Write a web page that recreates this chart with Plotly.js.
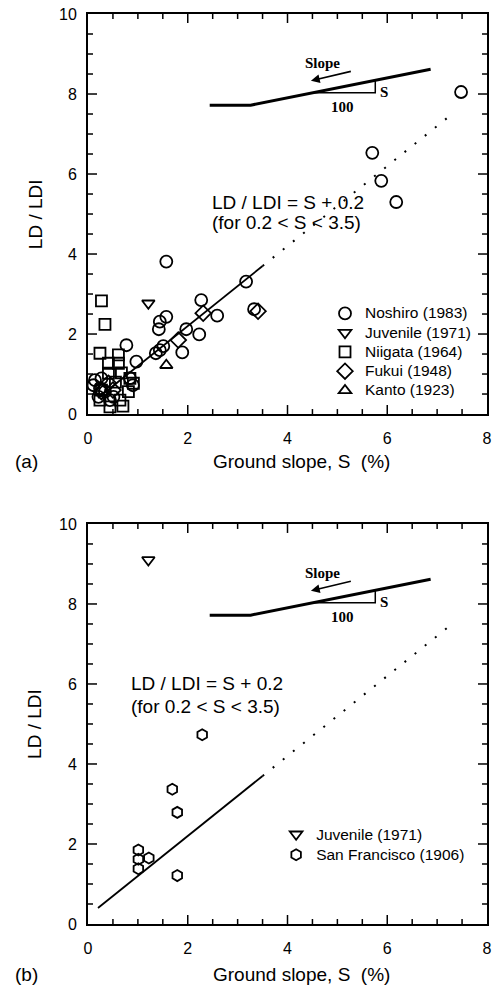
<!DOCTYPE html>
<html>
<head>
<meta charset="utf-8">
<script src="https://cdn.plot.ly/plotly-3.0.1.min.js"></script>
<style>html,body{margin:0;padding:0;background:#fff;overflow:hidden;}#chart{width:501px;height:998px;}</style>
</head>
<body>
<div id="chart"></div>
<script>
// ---------- Panel (a) data ----------
const noshiroS = [7.48, 5.70, 5.88, 6.18, 1.57, 3.17, 2.27, 1.57, 1.44, 1.42, 2.59, 1.97, 2.23, 1.89, 3.33, 0.77, 1.36, 1.51, 1.44, 0.97, 0.14, 0.11, 0.27, 0.24, 0.34, 0.44, 0.21, 0.51, 0.84, 0.90];
const noshiroR = [8.05, 6.53, 5.83, 5.30, 3.81, 3.31, 2.85, 2.43, 2.31, 2.12, 2.46, 2.12, 1.99, 1.54, 2.62, 1.72, 1.52, 1.70, 1.60, 1.31, 0.85, 0.72, 0.89, 0.65, 0.56, 0.35, 0.43, 0.43, 0.90, 0.72];
const juvenileAS = [1.21];
const juvenileAR = [2.77];
const niigataS = [0.27, 0.34, 0.24, 0.61, 0.41, 0.61, 0.41, 0.67, 0.84, 0.91, 0.81, 0.64, 0.24, 0.44, 0.27, 0.55, 0.70];
const niigataR = [2.83, 2.24, 1.52, 1.48, 1.27, 1.27, 1.02, 1.03, 0.89, 0.77, 0.56, 0.35, 0.35, 0.18, 0.60, 0.80, 0.20];
const fukuiS = [2.31, 3.41, 1.81, 0.41, 0.27, 0.50];
const fukuiR = [2.52, 2.57, 1.85, 0.77, 0.56, 0.60];
const kantoS = [1.57];
const kantoR = [1.22];

// ---------- Panel (b) data ----------
const juvenileBS = [1.21];
const juvenileBR = [9.10];
const sanFranS = [2.29, 1.69, 1.79, 1.79, 1.01, 1.01, 1.22, 1.01];
const sanFranR = [4.73, 3.37, 2.79, 1.21, 1.85, 1.62, 1.65, 1.38];

// ---------- Fitted relation LD/LDI = S + 0.2 ----------
const fitSolidS = [0.2, 3.5];
const fitDottedS = [3.5, 7.35];
const fitOffset = 0.2;

// ---------- Inset sketch (ground profile, slope triangle) ----------
const groundS = [2.44, 3.26, 6.87];
const groundR = [7.72, 7.72, 8.62];
const triS = [4.50, 5.76, 5.76];
const triR = [8.03, 8.03, 8.34];

// ---------- Axes / labels ----------
const xRange = [0, 8];
const yRange = [0, 10];
const majorStep = 2;
const minorStep = 0.5;
const legendNames = ['Noshiro (1983)', 'Juvenile (1971)', 'Niigata (1964)', 'Fukui (1948)', 'Kanto (1923)', 'San Francisco (1906)'];

const FONT = 'Liberation Sans, Arial, Helvetica, sans-serif';
const SERIF = 'Liberation Serif, Times New Roman, serif';

function mk(sym, size) {
  return {symbol: sym, size: size, color: '#000', line: {color: '#000', width: 1.8}};
}
function lg(name) {
  return '<span style="font-size:15.5px">' + name + '</span>';
}
function pts(S, R, name, sym, size, xa, ya, leg) {
  return {type: 'scatter', mode: 'markers', x: S, y: R, name: lg(name), marker: mk(sym, size),
          xaxis: xa, yaxis: ya, legend: leg};
}
function fitTraces(xa, ya) {
  return [
    {type: 'scatter', mode: 'lines', x: fitSolidS, y: fitSolidS.map(s => s + fitOffset),
     line: {color: '#000', width: 1.8}, xaxis: xa, yaxis: ya, showlegend: false, hoverinfo: 'skip'},
    {type: 'scatter', mode: 'lines', x: fitDottedS, y: fitDottedS.map(s => s + fitOffset),
     line: {color: '#000', width: 2, dash: '2px,11px'}, xaxis: xa, yaxis: ya, showlegend: false, hoverinfo: 'skip'},
    {type: 'scatter', mode: 'lines', x: groundS, y: groundR,
     line: {color: '#000', width: 3}, xaxis: xa, yaxis: ya, showlegend: false, hoverinfo: 'skip'},
    {type: 'scatter', mode: 'lines', x: triS, y: triR,
     line: {color: '#000', width: 1.5}, xaxis: xa, yaxis: ya, showlegend: false, hoverinfo: 'skip'}
  ];
}

// Inside tick marks (major every 2, minor every 0.5) on all four sides of a panel,
// built from the axis ranges and steps; lengths ≈ 9 px (major) and 5 px (minor).
const X_UNITS_PER_PX = (xRange[1] - xRange[0]) / 399;
const Y_UNITS_PER_PX = (yRange[1] - yRange[0]) / 400;
function isMajor(v) { return Math.abs(v / majorStep - Math.round(v / majorStep)) < 1e-6; }
function tickTrace(xa, ya) {
  const tx = [], ty = [];
  for (let v = xRange[0] + minorStep; v < xRange[1] - 1e-9; v += minorStep) {
    const len = (isMajor(v) ? 9 : 5) * Y_UNITS_PER_PX;
    tx.push(v, v, null, v, v, null);
    ty.push(yRange[0], yRange[0] + len, null, yRange[1], yRange[1] - len, null);
  }
  for (let v = yRange[0] + minorStep; v < yRange[1] - 1e-9; v += minorStep) {
    const len = (isMajor(v) ? 9 : 5) * X_UNITS_PER_PX;
    tx.push(xRange[0], xRange[0] + len, null, xRange[1], xRange[1] - len, null);
    ty.push(v, v, null, v, v, null);
  }
  return {type: 'scatter', mode: 'lines', x: tx, y: ty, connectgaps: false,
          line: {color: '#000', width: 1.5}, xaxis: xa, yaxis: ya, showlegend: false, hoverinfo: 'skip'};
}

const traces = [].concat(
  [tickTrace('x', 'y'), tickTrace('x2', 'y2')],
  fitTraces('x', 'y'),
  fitTraces('x2', 'y2'),
  [
    pts(noshiroS, noshiroR, legendNames[0], 'circle-open', 12, 'x', 'y', 'legend'),
    pts(juvenileAS, juvenileAR, legendNames[1], 'triangle-down-open', 11, 'x', 'y', 'legend'),
    pts(niigataS, niigataR, legendNames[2], 'square-open', 11, 'x', 'y', 'legend'),
    pts(fukuiS, fukuiR, legendNames[3], 'diamond-open', 12, 'x', 'y', 'legend'),
    pts(kantoS, kantoR, legendNames[4], 'triangle-up-open', 11, 'x', 'y', 'legend'),
    pts(juvenileBS, juvenileBR, legendNames[1], 'triangle-down-open', 11, 'x2', 'y2', 'legend2'),
    pts(sanFranS, sanFranR, legendNames[5], 'hexagon-open', 11, 'x2', 'y2', 'legend2')
  ]
);

function baseAxis(extra) {
  return Object.assign({tickmode: 'linear', tick0: 0, dtick: majorStep, ticks: '',
          showline: true, linewidth: 2, linecolor: '#000', mirror: true, showgrid: false, zeroline: false,
          tickfont: {family: FONT, size: 16, color: '#000'}, fixedrange: true}, extra);
}

function insetAnn(xr, yr) {
  return [
    {xref: xr, yref: yr, x: 4.70, y: 8.78, text: '<b>Slope</b>', showarrow: false,
     font: {family: SERIF, size: 15, color: '#000'}, xanchor: 'center', yanchor: 'middle'},
    {xref: xr, yref: yr, x: 5.82, y: 8.06, text: '<b>S</b>', showarrow: false,
     font: {family: SERIF, size: 15, color: '#000'}, xanchor: 'left', yanchor: 'middle'},
    {xref: xr, yref: yr, x: 5.10, y: 7.68, text: '<b>100</b>', showarrow: false,
     font: {family: SERIF, size: 15, color: '#000'}, xanchor: 'center', yanchor: 'middle'},
    {xref: xr, yref: yr, axref: xr, ayref: yr, x: 4.47, y: 8.33, ax: 5.30, ay: 8.575, text: '',
     showarrow: true, arrowhead: 2, arrowsize: 1.1, arrowwidth: 1.6, arrowcolor: '#000'}
  ];
}

const annotations = [].concat(
  insetAnn('x', 'y'),
  insetAnn('x2', 'y2'),
  [
    {xref: 'x', yref: 'y', x: 2.44, y: 5.30, text: 'LD / LDI = S + 0.2', showarrow: false, xanchor: 'left', yanchor: 'middle',
     font: {family: FONT, size: 19, color: '#000'}},
    {xref: 'x', yref: 'y', x: 2.44, y: 4.78, text: '(for 0.2 &lt; S &lt; 3.5)', showarrow: false, xanchor: 'left', yanchor: 'middle',
     font: {family: FONT, size: 19, color: '#000'}},
    {xref: 'x2', yref: 'y2', x: 0.83, y: 6.00, text: 'LD / LDI = S + 0.2', showarrow: false, xanchor: 'left', yanchor: 'middle',
     font: {family: FONT, size: 19, color: '#000'}},
    {xref: 'x2', yref: 'y2', x: 0.83, y: 5.43, text: '(for 0.2 &lt; S &lt; 3.5)', showarrow: false, xanchor: 'left', yanchor: 'middle',
     font: {family: FONT, size: 19, color: '#000'}},
    {xref: 'paper', yref: 'paper', x: 0.536, y: 0.508, text: 'Ground slope, S\u00a0\u00a0(%)', showarrow: false,
     xanchor: 'center', yanchor: 'middle', font: {family: FONT, size: 19, color: '#000'}},
    {xref: 'paper', yref: 'paper', x: 0.536, y: -0.056, text: 'Ground slope, S\u00a0\u00a0(%)', showarrow: false,
     xanchor: 'center', yanchor: 'middle', font: {family: FONT, size: 19, color: '#000'}},
    {xref: 'paper', yref: 'paper', x: -0.154, y: 0.508, text: '(a)', showarrow: false,
     xanchor: 'center', yanchor: 'middle', font: {family: FONT, size: 19, color: '#000'}},
    {xref: 'paper', yref: 'paper', x: -0.154, y: -0.056, text: '(b)', showarrow: false,
     xanchor: 'center', yanchor: 'middle', font: {family: FONT, size: 19, color: '#000'}},
    {xref: 'paper', yref: 'paper', x: -0.133, y: 0.780, text: 'LD / LDI', textangle: -90, showarrow: false,
     xanchor: 'center', yanchor: 'middle', font: {family: FONT, size: 19, color: '#000'}},
    {xref: 'paper', yref: 'paper', x: -0.133, y: 0.2198, text: 'LD / LDI', textangle: -90, showarrow: false,
     xanchor: 'center', yanchor: 'middle', font: {family: FONT, size: 19, color: '#000'}}
  ]
);

const layout = {
  width: 501, height: 998,
  margin: {l: 88, r: 14, t: 14, b: 74},
  paper_bgcolor: '#fff', plot_bgcolor: '#fff',
  xaxis: baseAxis({anchor: 'y', range: xRange, ticklabelstandoff: 9}),
  yaxis: baseAxis({anchor: 'x', domain: [0.5604, 1], range: yRange, ticklabelstandoff: 6}),
  xaxis2: baseAxis({anchor: 'y2', range: xRange, ticklabelstandoff: 9}),
  yaxis2: baseAxis({anchor: 'x2', domain: [0, 0.4396], range: yRange, ticklabelstandoff: 6}),
  legend: {x: 0.594, y: 0.687, xanchor: 'left', yanchor: 'top', bgcolor: 'rgba(0,0,0,0)', borderwidth: 0,
           font: {family: FONT, size: 12.5, color: '#000'}, tracegroupgap: 0, itemclick: false},
  legend2: {x: 0.4715, y: 0.1154, xanchor: 'left', yanchor: 'top', bgcolor: 'rgba(0,0,0,0)', borderwidth: 0,
            font: {family: FONT, size: 13.5, color: '#000'}, tracegroupgap: 0, itemclick: false},
  annotations: annotations,
  showlegend: true
};

Plotly.newPlot('chart', traces, layout, {displayModeBar: false});
</script>
</body>
</html>
